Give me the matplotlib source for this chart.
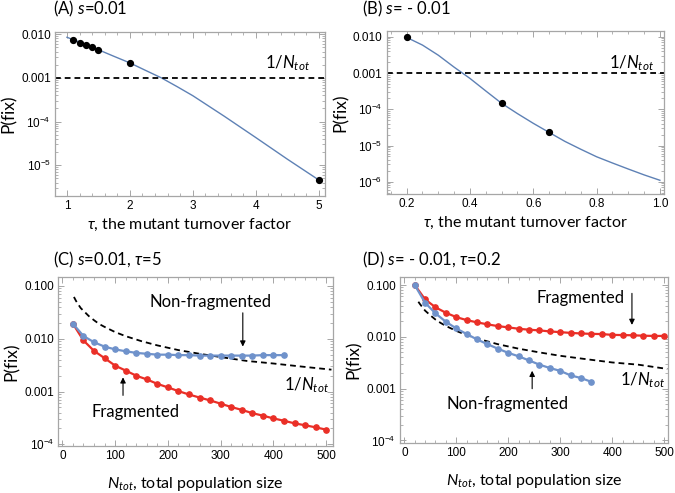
import numpy as np
import matplotlib
matplotlib.use("Agg")
import matplotlib.pyplot as plt
from matplotlib.ticker import LogLocator, AutoMinorLocator, NullFormatter

plt.rcParams['mathtext.fontset'] = 'custom'
plt.rcParams['mathtext.rm'] = 'Lato'
plt.rcParams['mathtext.it'] = 'Lato:italic'
plt.rcParams['mathtext.sf'] = 'Liberation Sans'
plt.rcParams['font.family'] = ['Lato', 'DejaVu Sans']

# Panel A: s = 0.01
tau_a_curve = [1.0, 1.25, 1.5, 1.75, 2.0, 2.25, 2.5, 2.75, 3.0, 3.5, 4.0, 4.5, 5.0]
pfix_a_curve = [0.0085, 0.0062, 0.0044, 0.0031, 0.0022, 0.00148, 0.0010, 6.3e-4,
                3.9e-4, 1.32e-4, 4.3e-5, 1.38e-5, 4.6e-6]
tau_a_pts = [1.1, 1.2, 1.3, 1.4, 1.5, 2.0, 5.0]
pfix_a_pts = [0.0074, 0.0064, 0.0057, 0.0051, 0.0044, 0.0022, 4.5e-6]

# Panel B: s = -0.01
tau_b_curve = [0.2, 0.25, 0.3, 0.35, 0.4, 0.45, 0.5, 0.55, 0.6, 0.65, 0.7, 0.75, 0.8,
               0.85, 0.9, 0.95, 1.0]
pfix_b_curve = [0.0096, 0.0059, 0.0031, 0.00145, 7.1e-4, 3.2e-4, 1.46e-4, 7.6e-5,
                4.1e-5, 2.3e-5, 1.3e-5, 7.9e-6, 4.9e-6, 3.3e-6, 2.25e-6, 1.55e-6, 1.1e-6]
tau_b_pts = [0.2, 0.5, 0.65]
pfix_b_pts = [0.0096, 1.46e-4, 2.3e-5]

n_tot_ref = 1000  # the 1/N_tot line in A and B

# Panel C: s = 0.01, tau = 5
n_c_frag = [20, 40, 60, 80, 100, 120, 140, 160, 180, 200, 220, 240, 260, 280, 300,
            320, 340, 360, 380, 400, 420, 440, 460, 480, 500]
p_c_frag = [0.0193, 0.0093, 0.0059, 0.0043, 0.0031, 0.0025, 0.0020, 0.0017, 0.0014,
            0.0012, 0.00102, 0.00088, 0.00077, 0.00068, 0.00059, 0.00051, 0.00045,
            0.00039, 0.00035, 0.00031, 0.00028, 0.00025, 0.00023, 0.00021, 0.00019]
n_c_nonfrag = [20, 40, 60, 80, 100, 120, 140, 160, 180, 200, 220, 240, 260, 280, 300,
               320, 340, 360, 380, 400, 420]
p_c_nonfrag = [0.0193, 0.0113, 0.0086, 0.0071, 0.0063, 0.0058, 0.0054, 0.0052, 0.0050,
               0.0050, 0.0049, 0.0049, 0.0048, 0.0048, 0.0048, 0.0048, 0.0048, 0.0048,
               0.0049, 0.0049, 0.0049]
n_c_dash = [22, 26, 30, 35, 40, 50, 60, 70, 80, 100, 120, 150, 180, 220, 260, 300, 350,
            400, 450, 510]
p_c_dash = [0.062, 0.052, 0.045, 0.038, 0.034, 0.027, 0.0225, 0.019, 0.0168, 0.0134,
            0.0112, 0.0090, 0.0075, 0.0061, 0.0052, 0.0045, 0.0038, 0.0034, 0.0030,
            0.0026]

# Panel D: s = -0.01, tau = 0.2
n_d_frag = n_c_frag
p_d_frag = [0.100, 0.0528, 0.0371, 0.0291, 0.0240, 0.0210, 0.0190, 0.0174, 0.0161,
            0.0152, 0.0143, 0.0137, 0.0133, 0.0127, 0.0123, 0.0119, 0.0116, 0.0114,
            0.0113, 0.0109, 0.0108, 0.0107, 0.0105, 0.0104, 0.0104]
n_d_nonfrag = [20, 40, 60, 80, 100, 120, 140, 160, 180, 200, 220, 240, 260, 280, 300,
               320, 340, 360]
p_d_nonfrag = [0.100, 0.0455, 0.0283, 0.0195, 0.0145, 0.0113, 0.0089, 0.0072, 0.0059,
               0.0049, 0.0042, 0.0035, 0.0029, 0.0025, 0.0022, 0.0018, 0.0016, 0.00135]
n_d_dash = [27, 30, 35, 40, 50, 60, 70, 80, 100, 120, 150, 180, 220, 260, 300, 350,
            400, 450, 506]
p_d_dash = [0.0475, 0.043, 0.037, 0.032, 0.026, 0.0215, 0.0185, 0.0162, 0.0130, 0.0108,
            0.0087, 0.0072, 0.0059, 0.0050, 0.0043, 0.0037, 0.0032, 0.0029, 0.0024]

BLUE_LINE = '#5e81b5'
BLUE_PT = '#6f92cb'
RED = '#ea2f27'
FRAME = '#a6a6a6'
TICKFONT = 'Liberation Sans'


def style(ax, xticks, xlabels, xminor, yticks, ylabels, xlim, ylim):
    ax.set_yscale('log')
    ax.set_xlim(*xlim)
    ax.set_ylim(*ylim)
    ax.set_yticks(yticks)
    ax.set_yticklabels(ylabels, fontfamily=TICKFONT, fontsize=8.5)
    ax.yaxis.set_minor_locator(LogLocator(base=10, subs=np.arange(2, 10) * 1.0, numticks=30))
    ax.yaxis.set_minor_formatter(NullFormatter())
    ax.set_xticks(xticks)
    ax.set_xticklabels(xlabels, fontfamily=TICKFONT, fontsize=8.5)
    ax.xaxis.set_minor_locator(AutoMinorLocator(xminor))
    ax.tick_params(which='both', direction='in', top=True, right=True, color=FRAME, pad=3)
    ax.tick_params(which='major', length=4, width=0.7)
    ax.tick_params(which='minor', length=2, width=0.6)
    for sp in ax.spines.values():
        sp.set_color(FRAME)
        sp.set_linewidth(0.9)


fig = plt.figure(figsize=(6.75, 4.93), dpi=100)

axA = fig.add_axes([0.0815, 0.602, 0.400, 0.334])
axB = fig.add_axes([0.5729, 0.6065, 0.4108, 0.3312])
axC = fig.add_axes([0.0864, 0.0953, 0.4070, 0.3422])
axD = fig.add_axes([0.5926, 0.1008, 0.3975, 0.3379])

dash = (0, (3.2, 2.2))
TXT = 12
XL = 11.5
YL = 12.5

# (A)
axA.plot(tau_a_curve, pfix_a_curve, color=BLUE_LINE, lw=1.0)
axA.plot(tau_a_pts, pfix_a_pts, 'o', color='black', ms=4.2)
axA.axhline(1.0 / n_tot_ref, color='black', lw=1.3, ls=dash)
axA.text(4.5, 0.0022, r'1/$N_{tot}$', fontsize=TXT, ha='center', va='center')
style(axA, [1, 2, 3, 4, 5], ['1', '2', '3', '4', '5'], 5,
      [0.01, 0.001, 1e-4, 1e-5], ['0.010', '0.001', r'$\mathsf{10^{-4}}$', r'$\mathsf{10^{-5}}$'],
      (0.81, 5.1), (1.95e-6, 0.0115))
axA.set_xlabel(r'$\tau$, the mutant turnover factor', fontsize=XL, labelpad=3)
axA.set_ylabel('P(fix)', fontsize=YL, labelpad=3)

# (B)
axB.plot(tau_b_curve, pfix_b_curve, color=BLUE_LINE, lw=1.0)
axB.plot(tau_b_pts, pfix_b_pts, 'o', color='black', ms=4.2)
axB.axhline(1.0 / n_tot_ref, color='black', lw=1.3, ls=dash)
axB.text(0.91, 0.0019, r'1/$N_{tot}$', fontsize=TXT, ha='center', va='center')
style(axB, [0.2, 0.4, 0.6, 0.8, 1.0], ['0.2', '0.4', '0.6', '0.8', '1.0'], 4,
      [0.01, 0.001, 1e-4, 1e-5, 1e-6],
      ['0.010', '0.001', r'$\mathsf{10^{-4}}$', r'$\mathsf{10^{-5}}$', r'$\mathsf{10^{-6}}$'],
      (0.137, 1.013), (4.6e-7, 0.0147))
axB.set_xlabel(r'$\tau$, the mutant turnover factor', fontsize=XL, labelpad=3)
axB.set_ylabel('P(fix)', fontsize=YL, labelpad=3)

# (C)
axC.plot(n_c_dash, p_c_dash, color='black', lw=1.3, ls=dash)
axC.plot(n_c_frag, p_c_frag, '-o', color=RED, lw=1.6, ms=3.8)
axC.plot(n_c_nonfrag, p_c_nonfrag, '-o', color=BLUE_PT, lw=1.6, ms=3.8)
axC.text(280, 0.050, 'Non-fragmented', fontsize=TXT, ha='center', va='center')
axC.annotate('', xy=(342, 0.0063), xytext=(342, 0.035),
             arrowprops=dict(arrowstyle='-|>', color='black', lw=0.8, mutation_scale=8))
axC.text(138, 0.00041, 'Fragmented', fontsize=TXT, ha='center', va='center')
axC.annotate('', xy=(115, 0.0021), xytext=(115, 0.00075),
             arrowprops=dict(arrowstyle='-|>', color='black', lw=0.8, mutation_scale=8))
axC.text(462, 0.0013, r'1/$N_{tot}$', fontsize=TXT, ha='center', va='center')
style(axC, [0, 100, 200, 300, 400, 500], ['0', '100', '200', '300', '400', '500'], 5,
      [0.1, 0.01, 0.001, 1e-4], ['0.100', '0.010', '0.001', r'$\mathsf{10^{-4}}$'],
      (-7.6, 513), (9.3e-5, 0.146))
axC.set_xlabel(r'$N_{tot}$, total population size', fontsize=XL, labelpad=9)
axC.set_ylabel('P(fix)', fontsize=YL, labelpad=3)

# (D)
axD.plot(n_d_dash, p_d_dash, color='black', lw=1.3, ls=dash)
axD.plot(n_d_frag, p_d_frag, '-o', color=RED, lw=1.6, ms=3.8)
axD.plot(n_d_nonfrag, p_d_nonfrag, '-o', color=BLUE_PT, lw=1.6, ms=3.8)
axD.text(339, 0.055, 'Fragmented', fontsize=TXT, ha='center', va='center')
axD.annotate('', xy=(438, 0.015), xytext=(438, 0.078),
             arrowprops=dict(arrowstyle='-|>', color='black', lw=0.8, mutation_scale=8))
axD.text(198, 0.00051, 'Non-fragmented', fontsize=TXT, ha='center', va='center')
axD.annotate('', xy=(246, 0.0025), xytext=(246, 0.00088),
             arrowprops=dict(arrowstyle='-|>', color='black', lw=0.8, mutation_scale=8))
axD.text(459, 0.00145, r'1/$N_{tot}$', fontsize=TXT, ha='center', va='center')
style(axD, [0, 100, 200, 300, 400, 500], ['0', '100', '200', '300', '400', '500'], 5,
      [0.1, 0.01, 0.001, 1e-4], ['0.100', '0.010', '0.001', r'$\mathsf{10^{-4}}$'],
      (-8.3, 508), (8.8e-5, 0.1445))
axD.set_xlabel(r'$N_{tot}$, total population size', fontsize=XL, labelpad=9)
axD.set_ylabel('P(fix)', fontsize=YL, labelpad=3)

# panel titles
fig.text(53 / 675, 1 - 9 / 493, r'(A) $s$=0.01', fontsize=TXT, va='center', ha='left')
fig.text(362 / 675, 1 - 9 / 493, r'(B) $s$= - 0.01', fontsize=TXT, va='center', ha='left')
fig.text(53 / 675, 1 - 260 / 493, r'(C) $s$=0.01, $\tau$=5', fontsize=TXT, va='center', ha='left')
fig.text(362 / 675, 1 - 260 / 493, r'(D) $s$= - 0.01, $\tau$=0.2', fontsize=TXT, va='center', ha='left')

fig.savefig('out.png', dpi=100)
